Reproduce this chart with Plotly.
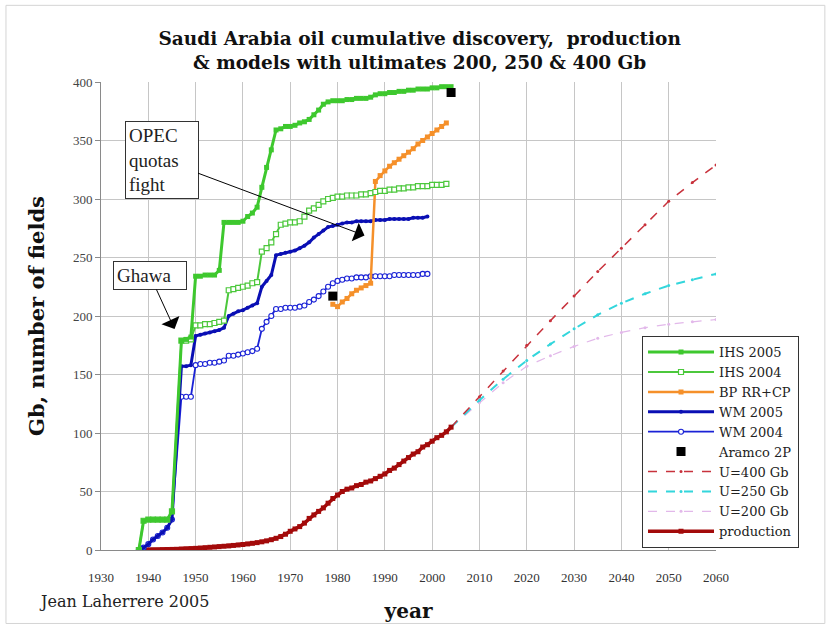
import plotly.graph_objects as go

# ---- Cumulative discovery (Gb) ----
ihs2005_years = [1938, 1939, 1940, 1941, 1942, 1943, 1944, 1945, 1947, 1948, 1949, 1950,
                 1951, 1952, 1953, 1954, 1955, 1956, 1957, 1958, 1959, 1960, 1961, 1962,
                 1963, 1964, 1965, 1966, 1967, 1968, 1969, 1970, 1971, 1972, 1973, 1974,
                 1975, 1976, 1977, 1978, 1979, 1980, 1981, 1982, 1983, 1984, 1985, 1986,
                 1987, 1988, 1989, 1990, 1991, 1992, 1993, 1994, 1995, 1996, 1997, 1998,
                 1999, 2000, 2001, 2002, 2003, 2004]
ihs2005_vals = [0, 25, 26, 26, 26, 26, 26, 33, 179, 180, 182, 234,
                234, 235, 235, 235, 239, 280, 280, 280, 280, 281, 285, 288,
                293, 310, 327, 342, 359, 360, 362, 362, 363, 365, 366, 368,
                372, 376, 381, 383, 384, 384, 384, 385, 385, 386, 386, 386,
                387, 389, 390, 390, 391, 391, 392, 392, 393, 393, 394, 394,
                394, 395, 395, 396, 396, 396]

ihs2004_years = [1938, 1939, 1940, 1941, 1942, 1943, 1944, 1945, 1947, 1948, 1949, 1950,
                 1951, 1952, 1953, 1954, 1955, 1956, 1957, 1958, 1959, 1960, 1961, 1962,
                 1963, 1964, 1965, 1966, 1967, 1968, 1969, 1970, 1971, 1972, 1973, 1974,
                 1975, 1976, 1977, 1978, 1979, 1980, 1981, 1982, 1983, 1984, 1985, 1986,
                 1987, 1988, 1989, 1990, 1991, 1992, 1993, 1994, 1995, 1996, 1997, 1998,
                 1999, 2000, 2001, 2002, 2003]
ihs2004_vals = [0, 25, 26, 26, 26, 26, 26, 33, 179, 179, 180, 192,
                192, 193, 193, 194, 195, 196, 222, 223, 224, 225, 226, 228,
                229, 255, 258, 263, 270, 278, 279, 280, 280, 281, 285, 290,
                292, 295, 298, 300, 301, 302, 302, 303, 303, 303, 304, 304,
                305, 306, 307, 307, 308, 308, 309, 309, 310, 310, 311, 311,
                311, 312, 312, 312, 313]

bp_years = [1979, 1980, 1981, 1982, 1983, 1984, 1985, 1986, 1987, 1988, 1989, 1990,
            1991, 1992, 1993, 1994, 1995, 1996, 1997, 1998, 1999, 2000, 2001, 2002, 2003]
bp_vals = [210, 208, 212, 215, 219, 222, 224, 226, 228, 315, 320, 324,
           328, 331, 334, 337, 340, 343, 347, 350, 353, 356, 359, 362, 365]

wm2005_years = [1938, 1939, 1940, 1941, 1942, 1943, 1944, 1945, 1947, 1948, 1949, 1950,
                1951, 1952, 1953, 1954, 1955, 1956, 1957, 1958, 1959, 1960, 1961, 1962,
                1963, 1964, 1965, 1966, 1967, 1968, 1969, 1970, 1971, 1972, 1973, 1974,
                1975, 1976, 1977, 1978, 1979, 1980, 1981, 1982, 1983, 1984, 1985, 1986,
                1987, 1988, 1989, 1990, 1991, 1992, 1993, 1994, 1995, 1996, 1997, 1998, 1999]
wm2005_vals = [0, 2, 5, 9, 12, 15, 19, 26, 157, 157, 158, 183,
               184, 185, 186, 187, 188, 190, 200, 202, 204, 205, 207, 209,
               211, 225, 230, 235, 252, 253, 254, 255, 256, 258, 260, 263,
               267, 270, 273, 276, 277, 278, 279, 280, 280, 281, 281, 281,
               281, 282, 282, 282, 283, 283, 283, 283, 283, 284, 284, 284, 285]

wm2004_years = wm2005_years
wm2004_vals = [0, 2, 5, 9, 12, 15, 19, 26, 131, 131, 131, 158,
               159, 159, 160, 160, 161, 162, 166, 166, 167, 168, 169, 170,
               172, 189, 195, 200, 206, 206, 207, 207, 207, 208, 209, 212,
               214, 217, 221, 225, 228, 230, 231, 232, 232, 233, 233, 233,
               234, 234, 234, 234, 234, 235, 235, 235, 235, 235, 235, 236, 236]

aramco_years = [1979, 2004]
aramco_vals = [217, 391]

# ---- Cumulative production (Gb) ----
prod_years = list(range(1938, 2005))
prod_vals = [0, 0.1, 0.1, 0.2, 0.2, 0.3, 0.4, 0.5, 0.6, 0.8, 1.0, 1.2, 1.4,
             1.7, 2.0, 2.3, 2.6, 2.9, 3.2, 3.5, 3.9, 4.3, 4.7, 5.2, 5.7,
             6.3, 7.0, 7.8, 8.8, 10, 11.5, 13.5, 16, 18, 20, 23, 27,
             30, 33, 36, 40, 44, 47, 50, 52, 53, 55, 56, 58,
             59, 61, 63, 65, 68, 70, 73, 76, 79, 82, 84, 88,
             90, 93, 96, 98, 101, 105]

# ---- Models with ultimates 400, 250 and 200 Gb ----
model_years = [2004, 2010, 2015, 2020, 2025, 2030, 2035, 2040, 2045, 2050, 2055, 2060]
u400_vals = [105, 131, 153, 175, 196, 217, 238, 258, 278, 298, 314, 329]
u250_vals = [105, 128, 146, 162, 176, 189, 201, 211, 219, 226, 231, 236]
u200_vals = [105, 126, 143, 157, 166, 174, 181, 186, 190, 193, 195, 197]

x_ticks = list(range(1930, 2061, 10))
y_ticks = list(range(0, 401, 50))

SERIF = "Liberation Serif, Times New Roman, serif"
WIDE_SERIF = "DejaVu Serif, serif"

fig = go.Figure()

fig.add_trace(go.Scatter(x=model_years, y=u200_vals, name="U=200 Gb", mode="lines+markers",
                         line=dict(color="#e2b8ea", width=1.2, dash="dash"),
                         marker=dict(size=3, color="#e2b8ea")))
fig.add_trace(go.Scatter(x=model_years, y=u250_vals, name="U=250 Gb", mode="lines+markers",
                         line=dict(color="#33d6dc", width=2, dash="dash"),
                         marker=dict(size=3, color="#33d6dc")))
fig.add_trace(go.Scatter(x=model_years, y=u400_vals, name="U=400 Gb", mode="lines+markers",
                         line=dict(color="#c8323c", width=1.5, dash="dash"),
                         marker=dict(size=3, color="#c8323c")))

fig.add_trace(go.Scatter(x=prod_years, y=prod_vals, name="production", mode="lines+markers",
                         line=dict(color="#a30a0a", width=3.5),
                         marker=dict(size=5, color="#a30a0a", symbol="square")))
fig.add_trace(go.Scatter(x=wm2004_years, y=wm2004_vals, name="WM 2004", mode="lines+markers",
                         line=dict(color="#1a22d6", width=1.8),
                         marker=dict(size=5, color="white", symbol="circle",
                                     line=dict(color="#1a22d6", width=1.1))))
fig.add_trace(go.Scatter(x=wm2005_years, y=wm2005_vals, name="WM 2005", mode="lines+markers",
                         line=dict(color="#0a0fb4", width=3),
                         marker=dict(size=4, color="#0a0fb4", symbol="circle")))
fig.add_trace(go.Scatter(x=bp_years, y=bp_vals, name="BP RR+CP", mode="lines+markers",
                         line=dict(color="#f5902a", width=2.5),
                         marker=dict(size=5, color="#f5902a", symbol="square")))
fig.add_trace(go.Scatter(x=ihs2004_years, y=ihs2004_vals, name="IHS 2004", mode="lines+markers",
                         line=dict(color="#4cc83c", width=2),
                         marker=dict(size=5, color="white", symbol="square",
                                     line=dict(color="#4cc83c", width=1.2))))
fig.add_trace(go.Scatter(x=ihs2005_years, y=ihs2005_vals, name="IHS 2005", mode="lines+markers",
                         line=dict(color="#3ec82e", width=3),
                         marker=dict(size=5, color="#3ec82e", symbol="square")))
fig.add_trace(go.Scatter(x=aramco_years, y=aramco_vals, name="Aramco 2P", mode="markers",
                         marker=dict(size=9, color="black", symbol="square")))

legend_order = ["IHS 2005", "IHS 2004", "BP RR+CP", "WM 2005", "WM 2004", "Aramco 2P",
                "U=400 Gb", "U=250 Gb", "U=200 Gb", "production"]
for tr in fig.data:
    tr.legendrank = legend_order.index(tr.name) + 1

fig.update_layout(
    width=831, height=631,
    margin=dict(l=101, r=115, t=82, b=79),
    paper_bgcolor="white", plot_bgcolor="white",
    showlegend=True,
    title=dict(text="<b>Saudi Arabia oil cumulative discovery,  production<br>"
                    "& models with ultimates 200, 250 & 400 Gb</b>",
               x=0.505, xanchor="center", y=0.929, yanchor="middle",
               font=dict(family=WIDE_SERIF, size=18.5, color="#111")),
    legend=dict(x=0.8797, y=0.004, xanchor="left", yanchor="bottom",
                bgcolor="white", bordercolor="#333", borderwidth=1,
                font=dict(family=WIDE_SERIF, size=13, color="#222"),
                itemwidth=66, tracegroupgap=0, traceorder="normal"),
    xaxis=dict(range=[1930, 2060], tickvals=x_ticks, ticktext=[str(v) for v in x_ticks],
               showgrid=True, gridcolor="#c6c6c6", gridwidth=1, zeroline=False,
               showline=True, linecolor="#8a8a8a", linewidth=1, ticks="",
               ticklabelstandoff=15,
               tickfont=dict(family=SERIF, size=13, color="#333"),
               title=dict(text="<b>year</b>", standoff=20,
                          font=dict(family=WIDE_SERIF, size=20, color="#111"))),
    yaxis=dict(range=[0, 400], tickvals=y_ticks,
               showgrid=True, gridcolor="#c6c6c6", gridwidth=1, zeroline=False,
               showline=True, linecolor="#8a8a8a", linewidth=1,
               ticks="outside", ticklen=5, tickcolor="#8a8a8a",
               tickfont=dict(family=SERIF, size=13, color="#444"),
               title=dict(text="<b>Gb, number of fields</b>", standoff=22,
                          font=dict(family=WIDE_SERIF, size=21, color="#111"))),
    shapes=[dict(type="rect", xref="paper", yref="paper", layer="below",
                 x0=-0.1545, x1=1.177, y0=-0.157, y1=1.1638,
                 line=dict(color="#d4d4d4", width=1))],
    annotations=[
        dict(text="OPEC<br>quotas<br>fight", x=1985.7, y=268.8, xref="x", yref="y",
             ax=-203, ay=-76, showarrow=True, arrowhead=1, arrowsize=3.3,
             arrowwidth=1, arrowcolor="black", align="left", width=66,
             bordercolor="#333", borderwidth=1, borderpad=3, bgcolor="white",
             font=dict(family=SERIF, size=19, color="#222")),
        dict(text="Ghawa", x=1945.55, y=188.8, xref="x", yref="y",
             ax=-24.5, ay=-53.5, showarrow=True, arrowhead=1, arrowsize=3.3,
             arrowwidth=1, arrowcolor="black", align="left", width=66,
             bordercolor="#333", borderwidth=1, borderpad=3, bgcolor="white",
             font=dict(family=SERIF, size=19, color="#222")),
        dict(text="Jean Laherrere 2005", x=-0.104, y=-0.1106, xref="paper", yref="paper",
             xanchor="left", yanchor="middle", showarrow=False,
             font=dict(family=WIDE_SERIF, size=16, color="#222")),
    ],
)

fig.write_html("out.html")
